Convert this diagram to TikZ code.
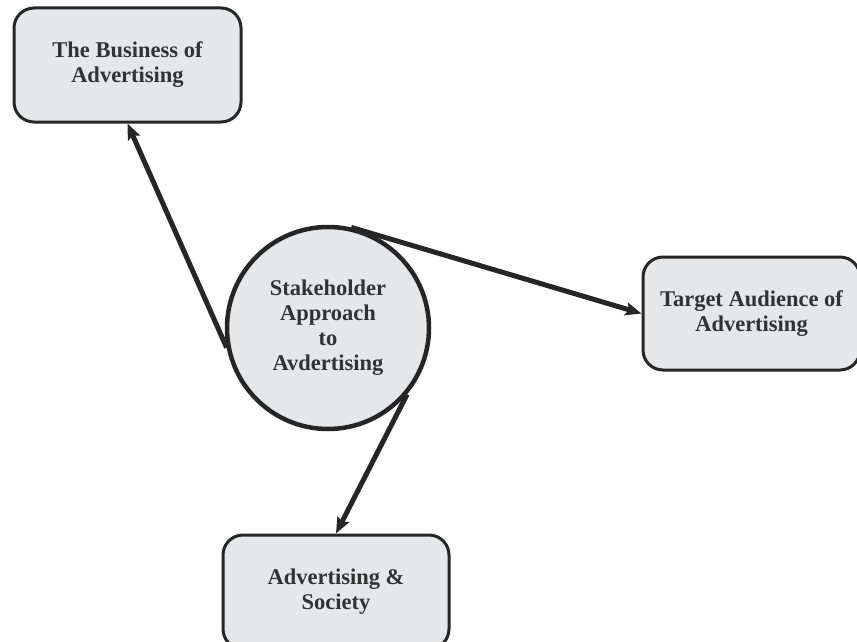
\documentclass[tikz,border=0pt]{standalone}
\usepackage{fontspec}
\setmainfont{Liberation Serif}
\usetikzlibrary{arrows.meta}
\definecolor{blackline}{HTML}{262626}
\definecolor{grayfill}{HTML}{E6E7E8}
\definecolor{graytext}{HTML}{333333}
\tikzset{every node/.append style={font=\bfseries\fontsize{22.5}{25}\selectfont,text=graytext,align=center}}

\begin{document}
\begin{tikzpicture}[x=1pt,y=-1pt,>={Stealth[length=16pt,width=13pt,inset=3pt]}]
  \useasboundingbox (0,0) rectangle (857,642);
  \tikzset{topicbox/.style={draw=blackline,line width=3pt,fill=grayfill,
      rounded corners=20pt,inner sep=0pt},
    link/.style={->,draw=blackline,line width=5pt}}
  \node[topicbox,minimum width=227pt,minimum height=114pt] (biz) at (127.5,65)
    {The Business of\\Advertising};
  \node[topicbox,minimum width=217pt,minimum height=113pt] (aud) at (751.5,313.5)
    {Target Audience of\\Advertising};
  \node[topicbox,minimum width=226pt,minimum height=114pt] (soc) at (336,592)
    {Advertising \&\\Society};
  \node[circle,draw=blackline,line width=4.5pt,fill=grayfill,inner sep=0pt,
    minimum size=202pt] (hub) at (328,328)
    {Stakeholder\\Approach\\to\\Avdertising};
  \draw[link] (hub.191) -- (biz.south);
  \draw[link] (hub.77) -- (aud.west);
  \draw[link] (hub.-40) -- (soc.north);
\end{tikzpicture}
\end{document}
